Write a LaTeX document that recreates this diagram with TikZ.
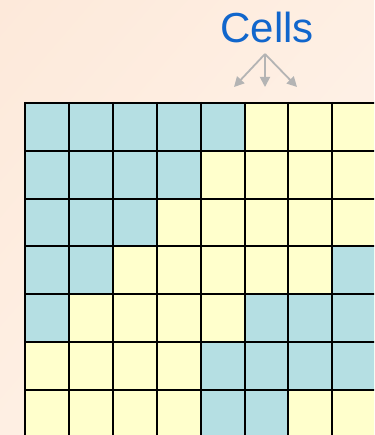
\documentclass[tikz,border=0pt]{standalone}
\usepackage{fontspec}
\setmainfont{Liberation Sans}
\usetikzlibrary{arrows.meta,shadings}
\definecolor{cellblue}{HTML}{B5DFE3}
\definecolor{cellyellow}{HTML}{FFFFCC}
\definecolor{bgA}{HTML}{FDE9DA}
\definecolor{bgM}{HTML}{FEEFE3}
\definecolor{bgB}{HTML}{FFF5EE}
\definecolor{textblue}{HTML}{1166CC}
\definecolor{arrowgray}{HTML}{B4B4B4}
\tikzset{
  gridline/.style={line width=2pt, black},
  pointer/.style={line width=1.8pt, arrowgray, -{Triangle[length=10pt,width=10pt]}},
  title/.style={text=textblue, font=\fontsize{42}{50}\selectfont, inner sep=0pt}
}
\begin{document}
\begin{tikzpicture}[x=1pt,y=-1pt]
\useasboundingbox (0,0) rectangle (374,435);
\clip (0,0) rectangle (374,435);
\shade[upper left=bgA, upper right=bgM, lower left=bgM, lower right=bgB] (0,0) rectangle (374,435);
% cells
\def\cw{43.9}
\def\ch{47.8}
\fill[cellyellow] (25,103) rectangle (376,438);
\foreach \r/\cl in {0/{0,1,2,3,4},1/{0,1,2,3},2/{0,1,2},3/{0,1,7},4/{0,5,6,7},5/{4,5,6,7},6/{4,5}}{
  \foreach \c in \cl {
    \fill[cellblue] (25+\c*\cw,103+\r*\ch) rectangle (25+\c*\cw+\cw,103+\r*\ch+\ch);
  }
}
\foreach \c in {0,...,8} \draw[gridline] (25+\c*\cw,102) -- (25+\c*\cw,440);
\foreach \r in {0,...,7} \draw[gridline] (24,103+\r*\ch) -- (380,103+\r*\ch);
% label and arrows
\node[title, anchor=base] (cells) at (267,43) {Cells};
\coordinate (hub) at (265,54);
\coordinate (e1) at (234,87);
\coordinate (e2) at (265,87);
\coordinate (e3) at (297,87);
\draw[pointer] (hub) -- (e1);
\draw[pointer] (hub) -- (e2);
\draw[pointer] (hub) -- (e3);
\end{tikzpicture}
\end{document}
